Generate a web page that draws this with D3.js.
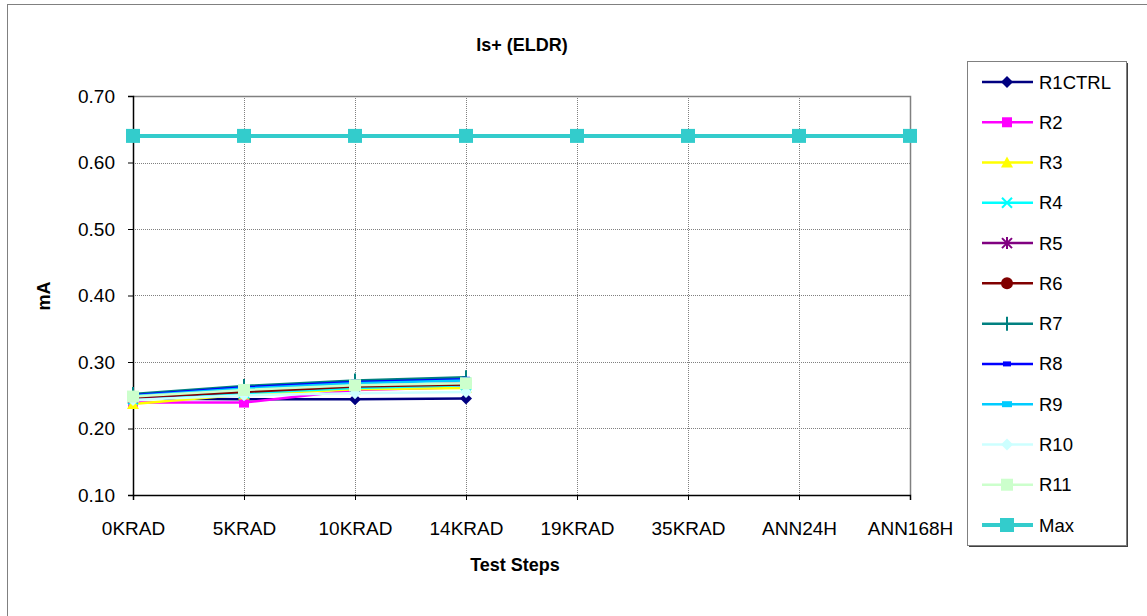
<!DOCTYPE html>
<html>
<head>
<meta charset="utf-8">
<script src="https://cdn.jsdelivr.net/npm/d3@7"></script>
<style>
  html, body { margin: 0; padding: 0; background: #fff; }
  svg { display: block; font-family: "Liberation Sans", Arial, sans-serif; }
</style>
</head>
<body>
<svg id="chart" width="1147" height="616"></svg>
<script>
// Test steps along the x axis
const steps = ["0KRAD", "5KRAD", "10KRAD", "14KRAD", "19KRAD", "35KRAD", "ANN24H", "ANN168H"];

// Supply current Is+ (mA) per unit, measured through 14KRAD
const r1ctrl = [0.245, 0.244, 0.244, 0.245];
const r2     = [0.239, 0.239, 0.258, 0.262];
const r3     = [0.237, 0.251, 0.259, 0.261];
const r4     = [0.244, 0.253, 0.261, 0.265];
const r5     = [0.246, 0.256, 0.264, 0.268];
const r6     = [0.247, 0.255, 0.263, 0.266];
const r7     = [0.252, 0.264, 0.272, 0.277];
const r8     = [0.250, 0.262, 0.270, 0.274];
const r9     = [0.249, 0.260, 0.268, 0.272];
const r10    = [0.243, 0.250, 0.253, 0.255];
const r11    = [0.248, 0.258, 0.265, 0.268];
// Specification limit
const maxLimit = [0.64, 0.64, 0.64, 0.64, 0.64, 0.64, 0.64, 0.64];

const yTicks = [0.10, 0.20, 0.30, 0.40, 0.50, 0.60, 0.70];

const series = [
  { name: "R1CTRL", values: r1ctrl, color: "#000080", marker: "diamond" },
  { name: "R2",     values: r2,     color: "#FF00FF", marker: "square" },
  { name: "R3",     values: r3,     color: "#FFFF00", marker: "triangle" },
  { name: "R4",     values: r4,     color: "#00FFFF", marker: "x" },
  { name: "R5",     values: r5,     color: "#800080", marker: "star" },
  { name: "R6",     values: r6,     color: "#800000", marker: "circle" },
  { name: "R7",     values: r7,     color: "#008080", marker: "plus" },
  { name: "R8",     values: r8,     color: "#0000FF", marker: "dash" },
  { name: "R9",     values: r9,     color: "#00CCFF", marker: "dashBig" },
  { name: "R10",    values: r10,    color: "#CCFFFF", marker: "diamond" },
  { name: "R11",    values: r11,    color: "#CCFFCC", marker: "bigSquare" },
  { name: "Max",    values: maxLimit, color: "#33CCCC", marker: "maxSquare", width: 4 }
];

const svg = d3.select("#chart");

// outer chart frame
svg.append("rect")
  .attr("x", 7.5).attr("y", 4.5).attr("width", 1160).attr("height", 640)
  .attr("fill", "none").attr("stroke", "#808080").attr("stroke-width", 1);

const plot = { left: 133, right: 910, top: 96, bottom: 495 };

const x = d3.scalePoint().domain(steps).range([plot.left, plot.right]).padding(0);
const y = d3.scaleLinear().domain([0.10, 0.70]).range([plot.bottom, plot.top]);

// horizontal dotted gridlines
svg.append("g").selectAll("line").data(yTicks.slice(1, -1)).join("line")
  .attr("x1", plot.left).attr("x2", plot.right)
  .attr("y1", d => Math.round(y(d)) + 0.5).attr("y2", d => Math.round(y(d)) + 0.5)
  .attr("stroke", "#808080").attr("stroke-width", 1).attr("stroke-dasharray", "1,1");

// vertical dotted gridlines
svg.append("g").selectAll("line").data(steps.slice(1, -1)).join("line")
  .attr("x1", d => Math.round(x(d)) + 0.5).attr("x2", d => Math.round(x(d)) + 0.5)
  .attr("y1", plot.top).attr("y2", plot.bottom)
  .attr("stroke", "#808080").attr("stroke-width", 1).attr("stroke-dasharray", "1,1");

// plot area border (top and right)
svg.append("path")
  .attr("d", `M${plot.left},${plot.top + 0.5}H${plot.right + 0.5}V${plot.bottom}`)
  .attr("fill", "none").attr("stroke", "#808080").attr("stroke-width", 1.5);

// y axis
const yAxis = svg.append("g")
  .attr("transform", `translate(${plot.left},0)`)
  .call(d3.axisLeft(y).tickValues(yTicks).tickFormat(d3.format(".2f")).tickSize(5).tickPadding(13));
yAxis.select(".domain").attr("stroke", "#000").attr("stroke-width", 1.5);
yAxis.selectAll(".tick line").attr("stroke", "#000");
yAxis.selectAll(".tick text").attr("font-size", 19).attr("fill", "#000")
  .attr("font-family", "'Liberation Sans', Arial, sans-serif");

// x axis
const xAxis = svg.append("g")
  .attr("transform", `translate(0,${plot.bottom})`)
  .call(d3.axisBottom(x).tickSize(5).tickPadding(22));
xAxis.select(".domain").attr("stroke", "#000").attr("stroke-width", 1.5);
xAxis.selectAll(".tick line").attr("stroke", "#000");
xAxis.selectAll(".tick text").attr("font-size", 19).attr("fill", "#000")
  .attr("font-family", "'Liberation Sans', Arial, sans-serif");

// titles
svg.append("text").attr("x", 522).attr("y", 51).attr("text-anchor", "middle")
  .attr("font-size", 18).attr("font-weight", "bold").text("Is+ (ELDR)");
svg.append("text").attr("x", 515).attr("y", 571).attr("text-anchor", "middle")
  .attr("font-size", 18).attr("font-weight", "bold").text("Test Steps");
svg.append("text").attr("transform", "translate(50,296) rotate(-90)").attr("text-anchor", "middle")
  .attr("font-size", 18).attr("font-weight", "bold").text("mA");

// marker drawing
function drawMarker(g, kind, color) {
  switch (kind) {
    case "diamond":
      g.append("path").attr("d", "M0,-6L6,0L0,6L-6,0Z").attr("fill", color); break;
    case "square":
      g.append("rect").attr("x", -5).attr("y", -5).attr("width", 10).attr("height", 10).attr("fill", color); break;
    case "triangle":
      g.append("path").attr("d", "M0,-6L6,5L-6,5Z").attr("fill", color); break;
    case "x":
      g.append("path").attr("d", "M-5,-5L5,5M-5,5L5,-5").attr("stroke", color).attr("stroke-width", 2); break;
    case "star":
      g.append("path").attr("d", "M-5,-5L5,5M-5,5L5,-5M0,-6V6").attr("stroke", color).attr("stroke-width", 2); break;
    case "circle":
      g.append("circle").attr("r", 6).attr("fill", color); break;
    case "plus":
      g.append("path").attr("d", "M0,-7V7").attr("stroke", color).attr("stroke-width", 2); break;
    case "dash":
      g.append("rect").attr("x", -4).attr("y", -2.5).attr("width", 8).attr("height", 5).attr("fill", color); break;
    case "dashBig":
      g.append("rect").attr("x", -5).attr("y", -3).attr("width", 10).attr("height", 6).attr("fill", color); break;
    case "bigSquare":
      g.append("rect").attr("x", -6).attr("y", -6).attr("width", 12).attr("height", 12).attr("fill", color); break;
    case "maxSquare":
      g.append("rect").attr("x", -7).attr("y", -7).attr("width", 14).attr("height", 14).attr("fill", color); break;
  }
}

const line = d3.line().x((d, i) => x(steps[i])).y(d => y(d));

series.forEach(s => {
  const g = svg.append("g");
  g.append("path").datum(s.values).attr("d", line)
    .attr("fill", "none").attr("stroke", s.color).attr("stroke-width", s.width || 2.5);
  s.values.forEach((v, i) => {
    const m = g.append("g").attr("transform", `translate(${x(steps[i])},${y(v)})`);
    drawMarker(m, s.marker, s.color);
  });
});

// legend
const legend = { left: 967, top: 61, right: 1126, bottom: 545 };
svg.append("rect")
  .attr("x", legend.left + 2).attr("y", legend.top + 2)
  .attr("width", legend.right - legend.left).attr("height", legend.bottom - legend.top)
  .attr("fill", "#404040");
svg.append("rect")
  .attr("x", legend.left + 0.5).attr("y", legend.top + 0.5)
  .attr("width", legend.right - legend.left).attr("height", legend.bottom - legend.top)
  .attr("fill", "#fff").attr("stroke", "#808080").attr("stroke-width", 1);

const ly = d3.scalePoint().domain(series.map(s => s.name)).range([82, 525]);
series.forEach(s => {
  const g = svg.append("g").attr("transform", `translate(0,${ly(s.name)})`);
  g.append("line").attr("x1", 982).attr("x2", 1033).attr("y1", 0).attr("y2", 0)
    .attr("stroke", s.color).attr("stroke-width", s.width || 2.5);
  const m = g.append("g").attr("transform", "translate(1007,0)");
  drawMarker(m, s.marker, s.color);
  g.append("text").attr("x", 1039).attr("y", 6.5).attr("font-size", 18.5).text(s.name);
});
</script>
</body>
</html>
